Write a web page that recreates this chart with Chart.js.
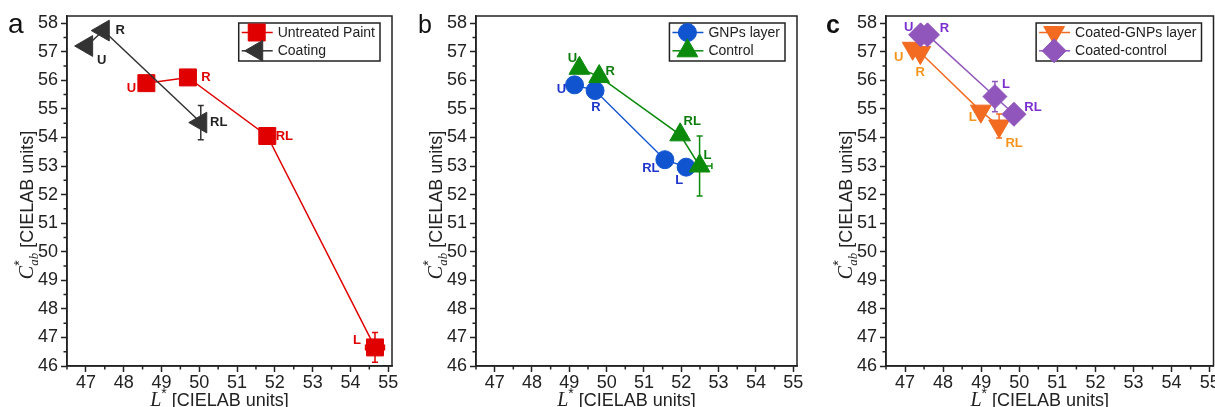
<!DOCTYPE html>
<html>
<head>
<meta charset="utf-8">
<script src="https://cdn.jsdelivr.net/npm/chart.js@4.4.1/dist/chart.umd.min.js"></script>
<style>
  html, body { margin: 0; padding: 0; background: #fff; overflow: hidden; }
  #wrap { position: relative; width: 1215px; height: 407px; overflow: hidden; }
  .panel { position: absolute; top: 0; height: 407px; }
</style>
</head>
<body>
<div id="wrap">
  <div class="panel" style="left:0;width:405px"><canvas id="chartA" width="405" height="407"></canvas></div>
  <div class="panel" style="left:405px;width:405px"><canvas id="chartB" width="405" height="407"></canvas></div>
  <div class="panel" style="left:810px;width:420px"><canvas id="chartC" width="420" height="407"></canvas></div>
</div>
<script>
// axis ticks (shared by all three panels)
const xTicks = [47, 48, 49, 50, 51, 52, 53, 54, 55];
const yTicks = [46, 47, 48, 49, 50, 51, 52, 53, 54, 55, 56, 57, 58];

// panel a
const untreatedX = [48.6, 49.7, 51.8, 54.65];
const untreatedY = [55.9, 56.1, 54.05, 46.65];
const untreatedXErr = [0, 0, 0, 0.25];
const untreatedYErr = [0, 0, 0, 0.52];
const untreatedTags = ['U', 'R', 'RL', 'L'];

const coatingX = [47.02, 47.46, 50.04];
const coatingY = [57.2, 57.74, 54.52];
const coatingYErr = [0, 0, 0.6];
const coatingTags = ['U', 'R', 'RL'];

// panel b
const gnpX = [49.14, 49.69, 51.56, 52.13];
const gnpY = [55.84, 55.64, 53.22, 52.96];
const gnpTags = ['U', 'R', 'RL', 'L'];

const controlX = [49.27, 49.8, 51.97, 52.49];
const controlY = [56.42, 56.13, 54.09, 53.0];
const controlXErr = [0, 0, 0, 0.33];
const controlYErr = [0, 0, 0, 1.05];
const controlTags = ['U', 'R', 'RL', 'L'];

// panel c
const coatedGnpX = [47.2, 47.4, 48.99, 49.47];
const coatedGnpY = [57.12, 56.97, 54.92, 54.4];
const coatedGnpYErr = [0, 0, 0, 0.42];
const coatedGnpTags = ['U', 'R', 'L', 'RL'];

const coatedCtrlX = [47.41, 47.59, 49.36, 49.86];
const coatedCtrlY = [57.59, 57.59, 55.43, 54.81];
const coatedCtrlYErr = [0, 0, 0.53, 0];
const coatedCtrlTags = ['U', 'R', 'L', 'RL'];

const SANS = '"Liberation Sans", Arial, sans-serif';
const SERIF = '"Liberation Serif", "Times New Roman", serif';
const INK = '#222';

function series(label, xs, ys, o) {
  return {
    label: label,
    data: xs.map((x, i) => ({ x: x, y: ys[i] })),
    showLine: true,
    tension: 0,
    borderWidth: 1.5,
    borderColor: o.color,
    backgroundColor: o.color,
    pointBackgroundColor: o.color,
    pointBorderColor: o.color,
    pointBorderWidth: 1,
    pointStyle: o.style,
    pointRotation: o.rotation || 0,
    pointRadius: o.radius,
    pointHoverRadius: o.radius,
    clip: false,
    order: o.order,
    xErr: o.xErr,
    yErr: o.yErr,
    tags: o.tags,
    tagColor: o.tagColor,
    tagOffsets: o.tagOffsets
  };
}

// draws text made of several runs (italic letter, super/subscripts...)
function drawRuns(ctx, runs, x0, base) {
  let x = x0;
  runs.forEach(r => {
    ctx.font = r.font;
    const w = ctx.measureText(r.text).width;
    ctx.fillText(r.text, x, base + (r.dy || 0));
    if (!r.noAdvance) x += w;
  });
}
function runsWidth(ctx, runs) {
  let w = 0;
  runs.forEach(r => {
    ctx.font = r.font;
    if (!r.noAdvance) w += ctx.measureText(r.text).width;
  });
  return w;
}

const deco = {
  id: 'deco',
  beforeDatasetsDraw(chart) {
    const { ctx } = chart;
    const xs = chart.scales.x, ys = chart.scales.y;
    chart.data.datasets.forEach((ds, i) => {
      const meta = chart.getDatasetMeta(i);
      ctx.save();
      ctx.strokeStyle = ds.borderColor;
      ctx.lineWidth = 1.5;
      meta.data.forEach((pt, j) => {
        const v = ds.data[j];
        const ye = ds.yErr ? ds.yErr[j] : 0;
        const xe = ds.xErr ? ds.xErr[j] : 0;
        ctx.beginPath();
        if (ye) {
          const t = ys.getPixelForValue(v.y + ye), b = ys.getPixelForValue(v.y - ye);
          ctx.moveTo(pt.x, t); ctx.lineTo(pt.x, b);
          ctx.moveTo(pt.x - 3, t); ctx.lineTo(pt.x + 3, t);
          ctx.moveTo(pt.x - 3, b); ctx.lineTo(pt.x + 3, b);
        }
        if (xe) {
          const l = xs.getPixelForValue(v.x - xe), r = xs.getPixelForValue(v.x + xe);
          ctx.moveTo(l, pt.y); ctx.lineTo(r, pt.y);
          ctx.moveTo(l, pt.y - 3); ctx.lineTo(l, pt.y + 3);
          ctx.moveTo(r, pt.y - 3); ctx.lineTo(r, pt.y + 3);
        }
        ctx.stroke();
      });
      ctx.restore();
    });
  },
  afterDatasetsDraw(chart) {
    const { ctx } = chart;
    chart.data.datasets.forEach((ds, i) => {
      const meta = chart.getDatasetMeta(i);
      ctx.save();
      ctx.font = 'bold 13px ' + SANS;
      ctx.fillStyle = ds.tagColor;
      ctx.textAlign = 'center';
      ctx.textBaseline = 'middle';
      meta.data.forEach((pt, j) => {
        const off = ds.tagOffsets[j];
        ctx.fillText(ds.tags[j], pt.x + off[0], pt.y + off[1]);
      });
      ctx.restore();
    });
  },
  afterDraw(chart, args, opts) {
    const { ctx, chartArea: a } = chart;
    const xs = chart.scales.x, ys = chart.scales.y;
    ctx.save();
    // frame
    ctx.strokeStyle = INK;
    ctx.lineWidth = 1.5;
    ctx.strokeRect(a.left, a.top, a.right - a.left, a.bottom - a.top);
    // minor ticks
    ctx.beginPath();
    xTicks.map(v => v - 0.5).filter(v => v >= xs.min && v <= xs.max).forEach(v => {
      const p = xs.getPixelForValue(v);
      ctx.moveTo(p, a.bottom); ctx.lineTo(p, a.bottom + 3.5);
    });
    yTicks.map(v => v + 0.5).filter(v => v >= ys.min && v <= ys.max).forEach(v => {
      const p = ys.getPixelForValue(v);
      ctx.moveTo(a.left, p); ctx.lineTo(a.left - 3.5, p);
    });
    ctx.stroke();

    // legend
    ctx.font = '14px ' + SANS;
    const dsets = chart.data.datasets;
    const tw = Math.max(...dsets.map(d => ctx.measureText(d.label).width));
    const bw = 39 + tw + 5, bh = 38;
    const bl = a.right - 12 - bw, bt = a.top + 7;
    ctx.fillStyle = '#fff';
    ctx.fillRect(bl, bt, bw, bh);
    ctx.strokeStyle = INK;
    ctx.lineWidth = 1.5;
    ctx.strokeRect(bl, bt, bw, bh);
    dsets.forEach((d, i) => {
      const ry = bt + 9.5 + i * 18.3;
      ctx.strokeStyle = d.borderColor;
      ctx.lineWidth = 1.5;
      ctx.beginPath();
      ctx.moveTo(bl + 3, ry); ctx.lineTo(bl + 34, ry);
      ctx.stroke();
      ctx.fillStyle = d.pointBackgroundColor;
      ctx.strokeStyle = d.pointBorderColor;
      ctx.lineWidth = 1;
      Chart.helpers.drawPoint(ctx, {
        pointStyle: d.pointStyle, rotation: d.pointRotation,
        radius: d.pointRadius, borderWidth: 1
      }, bl + 18, ry);
      ctx.fillStyle = INK;
      ctx.font = '14px ' + SANS;
      ctx.textAlign = 'left';
      ctx.textBaseline = 'middle';
      ctx.fillText(d.label, bl + 39, ry + 0.5);
    });

    // x title
    ctx.fillStyle = INK;
    ctx.textAlign = 'left';
    ctx.textBaseline = 'alphabetic';
    const xRuns = [
      { text: 'L', font: 'italic 20px ' + SERIF },
      { text: '*', font: '14px ' + SANS, dy: -8 },
      { text: ' [CIELAB units]', font: '18px ' + SANS }
    ];
    const xw = runsWidth(ctx, xRuns);
    const cx = (a.left + a.right) / 2 - 10;
    drawRuns(ctx, xRuns, cx - xw / 2, a.bottom + 40);

    // y title
    const yRuns = [
      { text: 'C', font: 'italic 20px ' + SERIF },
      { text: '*', font: '14px ' + SANS, dy: -9, noAdvance: true },
      { text: 'ab', font: 'italic 13px ' + SERIF, dy: 5 },
      { text: ' [CIELAB units]', font: '18px ' + SANS }
    ];
    const yw = runsWidth(ctx, yRuns);
    ctx.translate(a.left - 34, (a.top + a.bottom) / 2 + 14);
    ctx.rotate(-Math.PI / 2);
    drawRuns(ctx, yRuns, -yw / 2, 0);
    ctx.restore();

    // panel letter
    ctx.save();
    ctx.fillStyle = '#111';
    ctx.font = opts.letterFont;
    ctx.textBaseline = 'alphabetic';
    ctx.fillText(opts.letter, opts.letterX, 33);
    ctx.restore();
  }
};

function makePanel(id, datasets, left, right, letter, letterFont, letterX) {
  const canvas = document.getElementById(id);
  return new Chart(canvas, {
    type: 'scatter',
    data: { datasets: datasets },
    plugins: [deco],
    options: {
      responsive: false,
      animation: false,
      events: [],
      layout: { padding: { top: 16, right: canvas.width - right, left: 0, bottom: 0 } },
      plugins: {
        legend: { display: false },
        tooltip: { enabled: false },
        deco: { letter: letter, letterFont: letterFont, letterX: letterX }
      },
      scales: {
        x: {
          type: 'linear',
          min: 46.5,
          max: 55.1,
          afterBuildTicks: s => { s.ticks = xTicks.map(v => ({ value: v })); },
          afterFit: s => { s.height = 41; },
          ticks: { autoSkip: false, maxRotation: 0, minRotation: 0, padding: 0, color: INK,
                   font: { family: SANS, size: 18 } },
          grid: { drawOnChartArea: false, drawTicks: true, tickLength: 6, tickWidth: 1.5, tickColor: INK },
          border: { display: true, color: INK, width: 1.5 }
        },
        y: {
          type: 'linear',
          min: 46,
          max: 58.25,
          afterBuildTicks: s => { s.ticks = yTicks.map(v => ({ value: v })); },
          afterFit: s => { s.width = left; },
          ticks: { autoSkip: false, padding: 3, color: INK, font: { family: SANS, size: 18 } },
          grid: { drawOnChartArea: false, drawTicks: true, tickLength: 6, tickWidth: 1.5, tickColor: INK },
          border: { display: true, color: INK, width: 1.5 }
        }
      }
    }
  });
}

// panel a
makePanel('chartA', [
  series('Untreated Paint', untreatedX, untreatedY, {
    color: '#e00000', style: 'rect', radius: 12, order: 1,
    xErr: untreatedXErr, yErr: untreatedYErr, tags: untreatedTags, tagColor: '#e00000',
    tagOffsets: [[-15, 5], [18, 0], [17, 0], [-18, -7]]
  }),
  series('Coating', coatingX, coatingY, {
    color: '#333333', style: 'triangle', rotation: -90, radius: 12, order: 0,
    yErr: coatingYErr, tags: coatingTags, tagColor: '#222',
    tagOffsets: [[15, 14], [17, 0], [18, 0]]
  })
], 67, 395, 'a', '28px ' + SANS, 8);

// panel b
makePanel('chartB', [
  series('GNPs layer', gnpX, gnpY, {
    color: '#1054d0', style: 'circle', radius: 9, order: 1,
    tags: gnpTags, tagColor: '#1f35cc',
    tagOffsets: [[-13, 5], [1, 17], [-14, 9], [-7, 13]]
  }),
  series('Control', controlX, controlY, {
    color: '#0c8a0c', style: 'triangle', rotation: 0, radius: 12, order: 0,
    xErr: controlXErr, yErr: controlYErr, tags: controlTags, tagColor: '#0d7d0d',
    tagOffsets: [[-7, -10], [11, -5], [12, -13], [8, -11]]
  })
], 71, 398, 'b', '25px ' + SANS, 13);

// panel c
makePanel('chartC', [
  series('Coated-GNPs layer', coatedGnpX, coatedGnpY, {
    color: '#f26b21', style: 'triangle', rotation: 180, radius: 12, order: 1,
    yErr: coatedGnpYErr, tags: coatedGnpTags, tagColor: '#f7941d',
    tagOffsets: [[-14, 9], [0, 20], [-8, 6], [15, 17]]
  }),
  series('Coated-control', coatedCtrlX, coatedCtrlY, {
    color: '#9056bc', style: 'rectRot', radius: 12, order: 0,
    yErr: coatedCtrlYErr, tags: coatedCtrlTags, tagColor: '#7b2fd0',
    tagOffsets: [[-12, -7], [17, -6], [11, -12], [19, -7]]
  })
], 76, 403.5, 'c', 'bold 25px ' + SANS, 16);
</script>
</body>
</html>
